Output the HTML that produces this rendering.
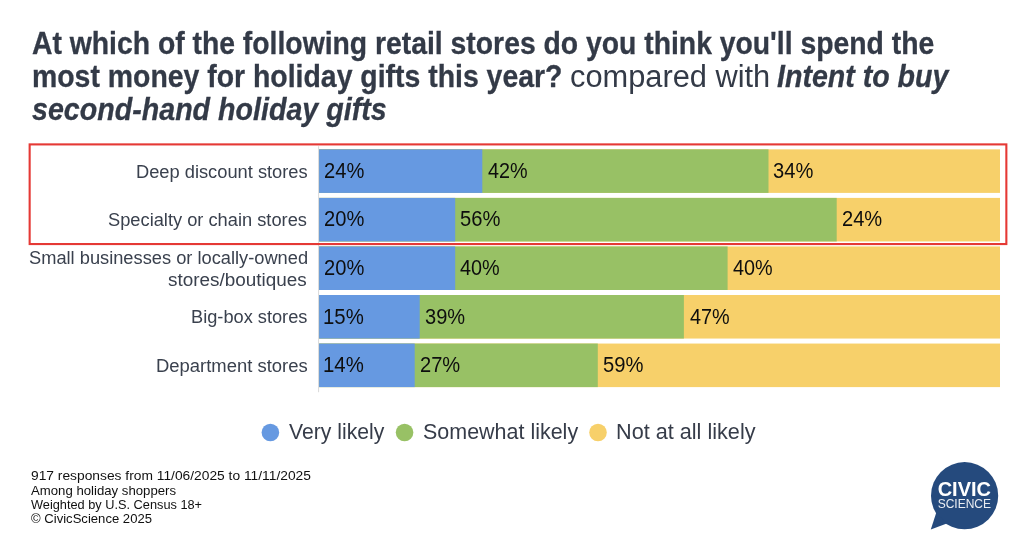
<!DOCTYPE html>
<html lang="en">
<head>
<meta charset="utf-8">
<title>Holiday gift spending by retail store type vs. intent to buy second-hand gifts</title>
<style>
html,body{margin:0;padding:0;background:#fff;}
body{width:1024px;height:554px;position:relative;overflow:hidden;font-family:"Liberation Sans",sans-serif;}
.tx{position:absolute;white-space:nowrap;margin:0;transform-origin:0 50%;}
.tt{color:#333a47;font-size:31.0px;line-height:34px;font-weight:normal;}
.tt.b{-webkit-text-stroke:0.3px #333a47;}
.b{font-weight:bold;}
.i{font-style:italic;}
.lab{color:#3a414e;font-size:18.3px;line-height:22px;}
.val{color:#0e0e0e;font-size:22.6px;line-height:30px;}
.leg{color:#363c49;font-size:21.15px;line-height:24px;}
.foot{color:#101010;font-size:13.2px;line-height:15px;}
</style>
</head>
<body>
<header>
<div class="tx tt b" id="t1" style="left:32.09px;top:27.26px;transform:scaleX(0.9138);">At which of the following retail stores do you think you'll spend the</div>
<div class="tx tt b" id="t2a" style="left:31.96px;top:60.21px;transform:scaleX(0.9164);">most money for holiday gifts this year?</div>
<div class="tx tt" id="t2b" style="left:570.15px;top:60.21px;transform:scaleX(0.9932);">compared with</div>
<div class="tx tt b i" id="t2c" style="left:777.41px;top:60.21px;transform:scaleX(0.9216);">Intent to buy</div>
<div class="tx tt b i" id="t3" style="left:32.35px;top:93.06px;transform:scaleX(0.9233);">second-hand holiday gifts</div>
</header>
<main>
<!-- category labels -->
<div class="tx lab" id="l1" style="left:135.62px;top:160.96px;transform:scaleX(0.9996);">Deep discount stores</div>
<div class="tx lab" id="l2" style="left:108.24px;top:208.81px;transform:scaleX(0.9990);">Specialty or chain stores</div>
<div class="tx lab" id="l3a" style="left:28.59px;top:246.76px;transform:scaleX(0.9987);">Small businesses or locally-owned</div>
<div class="tx lab" id="l3b" style="left:168.28px;top:268.76px;transform:scaleX(1.0338);">stores/boutiques</div>
<div class="tx lab" id="l4" style="left:190.81px;top:305.91px;transform:scaleX(0.9962);">Big-box stores</div>
<div class="tx lab" id="l5" style="left:155.54px;top:355.16px;transform:scaleX(1.0089);">Department stores</div>
<!-- chart graphics: axis, stacked bars, highlight box, legend dots -->
<svg style="position:absolute;left:0;top:0;" width="1024" height="554" viewBox="0 0 1024 554">
  <rect x="318.0" y="146.2" width="1.1" height="246" fill="#dcdcdc"/>
  <rect x="319.1" y="149.35" width="680.9" height="43.55" fill="#f7d06a"/>
  <rect x="319.1" y="149.35" width="449.4" height="43.55" fill="#98c165"/>
  <rect x="319.1" y="149.35" width="163.2" height="43.55" fill="#6699e1"/>
  <rect x="319.1" y="197.90" width="680.9" height="43.55" fill="#f7d06a"/>
  <rect x="319.1" y="197.90" width="517.6" height="43.55" fill="#98c165"/>
  <rect x="319.1" y="197.90" width="136.1" height="43.55" fill="#6699e1"/>
  <rect x="319.1" y="246.45" width="680.9" height="43.55" fill="#f7d06a"/>
  <rect x="319.1" y="246.45" width="408.5" height="43.55" fill="#98c165"/>
  <rect x="319.1" y="246.45" width="136.1" height="43.55" fill="#6699e1"/>
  <rect x="319.1" y="295.00" width="680.9" height="43.55" fill="#f7d06a"/>
  <rect x="319.1" y="295.00" width="364.8" height="43.55" fill="#98c165"/>
  <rect x="319.1" y="295.00" width="100.6" height="43.55" fill="#6699e1"/>
  <rect x="319.1" y="343.55" width="680.9" height="43.55" fill="#f7d06a"/>
  <rect x="319.1" y="343.55" width="278.7" height="43.55" fill="#98c165"/>
  <rect x="319.1" y="343.55" width="95.6" height="43.55" fill="#6699e1"/>
  <rect x="29.65" y="144.4" width="976.7" height="99.65" fill="none" stroke="#e53935" stroke-width="2.1"/>
  <circle cx="270.4" cy="432.55" r="8.8" fill="#6699e1"/>
  <circle cx="404.55" cy="432.55" r="8.8" fill="#98c165"/>
  <circle cx="598.0" cy="432.55" r="8.8" fill="#f7d06a"/>
</svg>
<!-- bar value labels -->
<div class="tx val" id="v00" style="left:324.36px;top:155.87px;transform:scaleX(0.8906);">24%</div>
<div class="tx val" id="v01" style="left:487.92px;top:155.87px;transform:scaleX(0.8762);">42%</div>
<div class="tx val" id="v02" style="left:773.29px;top:155.87px;transform:scaleX(0.8906);">34%</div>
<div class="tx val" id="v10" style="left:324.36px;top:204.42px;transform:scaleX(0.8906);">20%</div>
<div class="tx val" id="v11" style="left:460.01px;top:204.42px;transform:scaleX(0.8935);">56%</div>
<div class="tx val" id="v12" style="left:841.62px;top:204.42px;transform:scaleX(0.8901);">24%</div>
<div class="tx val" id="v20" style="left:324.36px;top:252.97px;transform:scaleX(0.8906);">20%</div>
<div class="tx val" id="v21" style="left:460.40px;top:252.97px;transform:scaleX(0.8779);">40%</div>
<div class="tx val" id="v22" style="left:733.12px;top:252.97px;transform:scaleX(0.8767);">40%</div>
<div class="tx val" id="v30" style="left:323.26px;top:301.52px;transform:scaleX(0.9014);">15%</div>
<div class="tx val" id="v31" style="left:424.71px;top:301.52px;transform:scaleX(0.8863);">39%</div>
<div class="tx val" id="v32" style="left:689.68px;top:301.52px;transform:scaleX(0.8779);">47%</div>
<div class="tx val" id="v40" style="left:323.26px;top:350.07px;transform:scaleX(0.9014);">14%</div>
<div class="tx val" id="v41" style="left:419.63px;top:350.07px;transform:scaleX(0.8899);">27%</div>
<div class="tx val" id="v42" style="left:602.65px;top:350.07px;transform:scaleX(0.8943);">59%</div>
<!-- legend -->
<div class="tx leg" id="g1" style="left:289.37px;top:419.97px;transform:scaleX(1.0010);">Very likely</div>
<div class="tx leg" id="g2" style="left:423.10px;top:419.97px;transform:scaleX(1.0155);">Somewhat likely</div>
<div class="tx leg" id="g3" style="left:616.36px;top:419.97px;transform:scaleX(1.0236);">Not at all likely</div>
</main>
<footer>
<div class="tx foot" id="f1" style="left:30.90px;top:468.13px;transform:scaleX(1.0461);">917 responses from 11/06/2025 to 11/11/2025</div>
<div class="tx foot" id="f2" style="left:30.78px;top:482.58px;transform:scaleX(0.9993);">Among holiday shoppers</div>
<div class="tx foot" id="f3" style="left:30.95px;top:496.98px;transform:scaleX(0.9675);">Weighted by U.S. Census 18+</div>
<div class="tx foot" id="f4" style="left:31.42px;top:511.38px;transform:scaleX(0.9926);">© CivicScience 2025</div>
<!-- logo -->
<svg style="position:absolute;left:920px;top:455px;" width="90" height="80" viewBox="920 455 90 80">
  <circle cx="964.6" cy="495.7" r="33.6" fill="#254a7d"/>
  <path d="M936.4 512.2 L930.8 529.6 L946.8 523.6 Z" fill="#254a7d"/>
  <text x="964.3" y="496.4" text-anchor="middle" font-family="Liberation Sans, sans-serif" font-weight="bold" font-size="20px" fill="#fff">CIVIC</text>
  <text x="964.3" y="507.8" text-anchor="middle" font-family="Liberation Sans, sans-serif" font-size="12px" fill="#fff" fill-opacity="0.9">SCIENCE</text>
</svg>
</footer>
</body>
</html>
